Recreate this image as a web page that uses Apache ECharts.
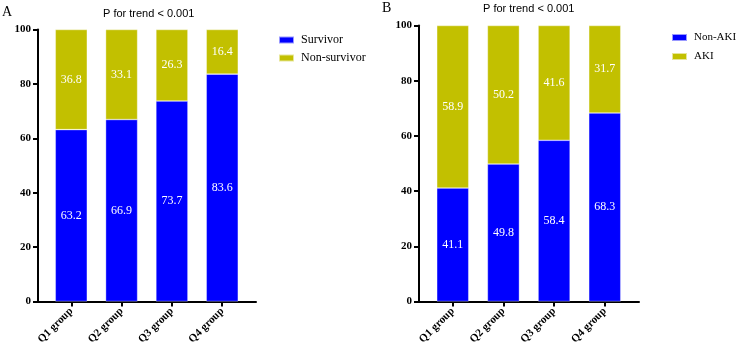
<!DOCTYPE html>
<html>
<head>
<meta charset="utf-8">
<script src="https://cdn.jsdelivr.net/npm/echarts@6/dist/echarts.min.js"></script>
<style>
  html, body { margin: 0; padding: 0; background: #fff; }
  #chart { width: 740px; height: 348px; }
</style>
</head>
<body>
<div id="chart"></div>
<script>
(function() {
  var groups = ['Q1 group', 'Q2 group', 'Q3 group', 'Q4 group'];
  var survivor = [63.2, 66.9, 73.7, 83.6];
  var nonSurvivor = [36.8, 33.1, 26.3, 16.4];
  var nonAki = [41.1, 49.8, 58.4, 68.3];
  var aki = [58.9, 50.2, 41.6, 31.7];

  var blue = '#0000ff';
  var olive = '#c2c000';
  var serif = '"Liberation Serif", "Times New Roman", serif';
  var sans = '"Liberation Sans", Arial, sans-serif';
  var black = { color: '#000', width: 2 };

  // frame grid: carries the y axis and the full-width x axis line
  function frameX(idx) {
    return {
      type: 'value', gridIndex: idx, min: 0, max: 1,
      splitLine: { show: false }, axisTick: { show: false }, axisLabel: { show: false },
      axisLine: { show: true, onZero: false, lineStyle: black }
    };
  }
  function frameY(idx) {
    return {
      type: 'value', gridIndex: idx, min: 0, max: 100, interval: 20,
      splitLine: { show: false },
      axisLine: { show: true, onZero: false, lineStyle: black },
      axisTick: { show: true, length: 5, lineStyle: black },
      axisLabel: { margin: 7, color: '#000', fontFamily: serif, fontWeight: 'bold', fontSize: 11 }
    };
  }
  // bar grid: category axis inset from the frame
  function barX(idx) {
    return {
      type: 'category', gridIndex: idx, data: groups,
      axisLine: { show: false },
      axisTick: { show: true, alignWithLabel: true, length: 5, lineStyle: black },
      axisLabel: {
        rotate: 45, margin: 8, interval: 0,
        color: '#000', fontFamily: serif, fontWeight: 'bold', fontSize: 11
      }
    };
  }
  function barY(idx) {
    return { type: 'value', gridIndex: idx, min: 0, max: 100, show: false, splitLine: { show: false } };
  }

  function bar(name, vals, color, idx, stack) {
    return {
      name: name, type: 'bar', xAxisIndex: idx, yAxisIndex: idx, stack: stack,
      barWidth: 32, data: vals,
      itemStyle: { color: color, borderColor: 'rgba(255,255,255,0.6)', borderWidth: 0.6 },
      label: {
        show: true, position: 'inside', color: '#fff',
        fontFamily: serif, fontSize: 12,
        formatter: function(p) { return p.value.toFixed(1); }
      }
    };
  }

  var titleText = { fontFamily: sans, fontWeight: 'normal', fontSize: 11, color: '#000' };
  var letterText = { fontFamily: serif, fontWeight: 'normal', fontSize: 14, color: '#000' };

  var chart = echarts.init(document.getElementById('chart'), null, { renderer: 'canvas' });
  chart.setOption({
    animation: false,
    backgroundColor: '#fff',
    title: [
      { text: 'A', left: 2, top: 5, padding: 0, textStyle: letterText },
      { text: 'P for trend < 0.001', left: 103, top: 8, padding: 0, textStyle: titleText },
      { text: 'B', left: 382, top: 1, padding: 0, textStyle: letterText },
      { text: 'P for trend < 0.001', left: 483, top: 3, padding: 0, textStyle: titleText }
    ],
    legend: [
      { data: ['Survivor', 'Non-survivor'], orient: 'vertical', left: 278, top: 34, padding: 0,
        itemWidth: 15, itemHeight: 7, itemGap: 6, icon: 'rect',
        textStyle: { color: '#000', fontFamily: serif, fontSize: 12, padding: [0, 0, 0, 2] } },
      { data: ['Non-AKI', 'AKI'], orient: 'vertical', left: 671, top: 32, padding: 0,
        itemWidth: 15, itemHeight: 7, itemGap: 8, icon: 'rect',
        textStyle: { color: '#000', fontFamily: serif, fontSize: 11, padding: [0, 0, 0, 2] } }
    ],
    grid: [
      { left: 38, top: 29.5, width: 218, height: 272 },
      { left: 46.1, top: 29.5, width: 201.3, height: 272 },
      { left: 419, top: 25.5, width: 220, height: 276 },
      { left: 427.4, top: 25.5, width: 202.7, height: 276 }
    ],
    xAxis: [frameX(0), barX(1), frameX(2), barX(3)],
    yAxis: [frameY(0), barY(1), frameY(2), barY(3)],
    series: [
      bar('Survivor', survivor, blue, 1, 'a'),
      bar('Non-survivor', nonSurvivor, olive, 1, 'a'),
      bar('Non-AKI', nonAki, blue, 3, 'b'),
      bar('AKI', aki, olive, 3, 'b')
    ]
  });
})();
</script>
</body>
</html>
